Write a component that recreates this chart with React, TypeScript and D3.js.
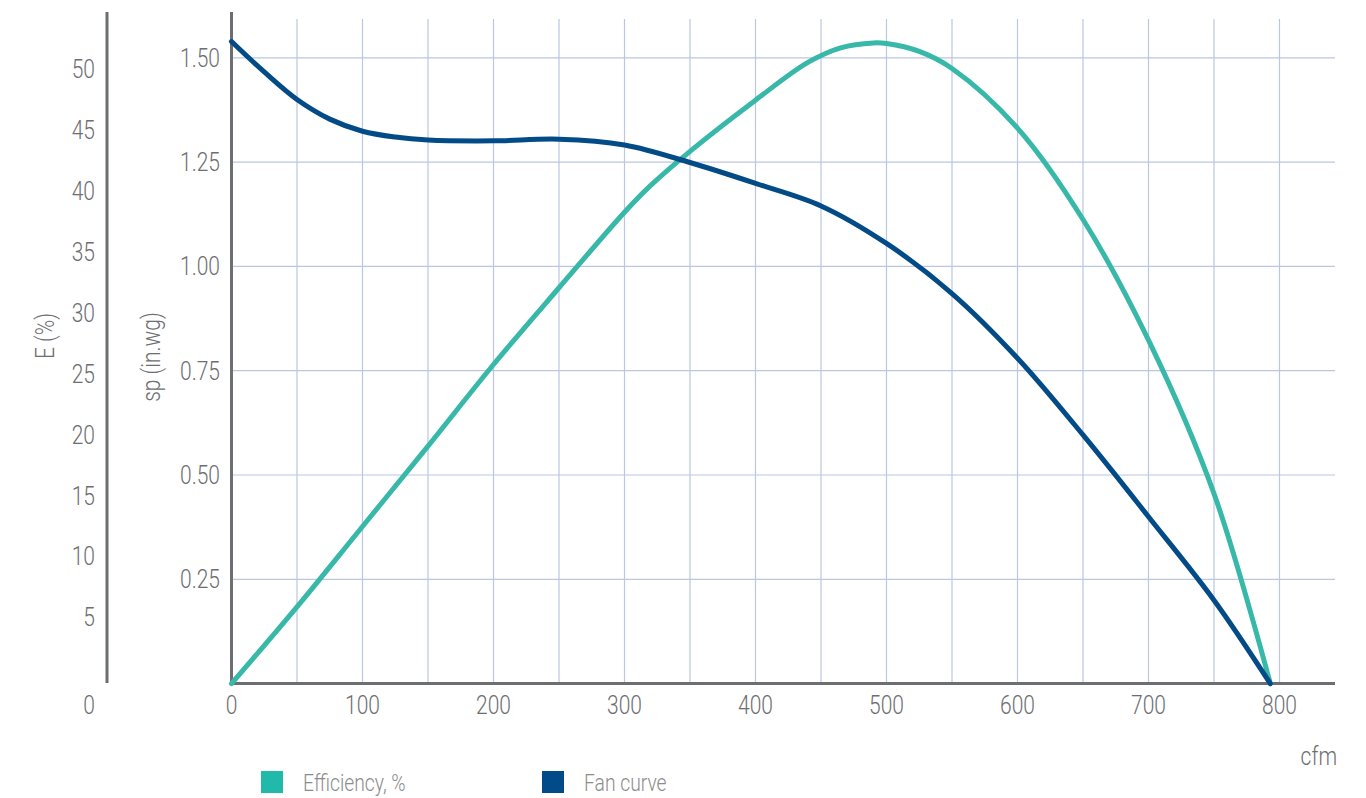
import React from "react";
import * as d3 from "d3";

const cfmTicks = [0, 100, 200, 300, 400, 500, 600, 700, 800];
const cfmGrid = [50, 100, 150, 200, 250, 300, 350, 400, 450, 500, 550, 600, 650, 700, 750, 800];
const spTicks = [0.25, 0.5, 0.75, 1.0, 1.25, 1.5];
const eTicks = [5, 10, 15, 20, 25, 30, 35, 40, 45, 50];

const effCfm = [0, 50, 100, 150, 200, 250, 300, 320, 350, 400, 440, 465, 490, 500, 525, 550, 600, 650, 700, 750, 793];
const effVal = [0, 6.3, 12.9, 19.5, 26.2, 32.5, 38.7, 40.9, 43.7, 47.9, 51.0, 52.2, 52.6, 52.55, 51.9, 50.5, 45.6, 38.1, 28.2, 15.6, 0];

const fanCfm = [0, 25, 50, 75, 100, 125, 150, 200, 250, 300, 350, 400, 450, 500, 550, 600, 650, 700, 750, 793];
const fanVal = [1.539, 1.466, 1.4, 1.353, 1.324, 1.31, 1.303, 1.301, 1.305, 1.291, 1.249, 1.199, 1.145, 1.055, 0.935, 0.78, 0.596, 0.4, 0.2, 0];

const FONT = "Roboto, sans-serif";
const AXIS = "#6d6e71";
const GRID = "#bcc5e2";
const TEAL = "#38b8a9";
const NAVY = "#034b87";
const SX = 0.84;

type TProps = {
  x: number;
  y: number;
  anchor?: "start" | "middle" | "end";
  size?: number;
  fill?: string;
  rotate?: number;
  dy?: string;
  children: React.ReactNode;
};

function T({ x, y, anchor = "start", size = 25, fill = AXIS, rotate = 0, dy, children }: TProps) {
  return (
    <text
      transform={`translate(${x},${y}) rotate(${rotate}) scale(${SX},1)`}
      textAnchor={anchor}
      fontSize={size}
      fontWeight={300}
      fill={fill}
      dy={dy}
    >
      {children}
    </text>
  );
}

export default function App() {
  const x = d3.scaleLinear().domain([0, 800]).range([231.5, 1279.5]);
  const ySp = d3.scaleLinear().domain([0, 1.5]).range([683.6, 57.8]);
  const yE = d3.scaleLinear().domain([0, 50]).range([683.6, 74.6]);

  const effLine = d3
    .line<number>()
    .x((_, i) => x(effCfm[i]))
    .y((d) => yE(d))
    .curve(d3.curveCatmullRom.alpha(0.5))(effVal) as string;
  const fanLine = d3
    .line<number>()
    .x((_, i) => x(fanCfm[i]))
    .y((d) => ySp(d))
    .curve(d3.curveCatmullRom.alpha(0.5))(fanVal) as string;

  const gridTop = 19;
  const xRight = 1335;
  const base = ySp(0);

  return (
    <svg
      width={1366}
      height={798}
      style={{ position: "absolute", left: 0, top: 0, background: "#fff" }}
      fontFamily={FONT}
    >
      {cfmGrid.map((v) => (
        <line key={"vg" + v} x1={x(v)} x2={x(v)} y1={gridTop} y2={base} stroke={GRID} strokeWidth={1.2} />
      ))}
      {spTicks.map((v) => (
        <line key={"hg" + v} x1={x(0)} x2={xRight} y1={ySp(v)} y2={ySp(v)} stroke={GRID} strokeWidth={1.2} />
      ))}

      <line x1={107} x2={107} y1={12} y2={683} stroke={AXIS} strokeWidth={3} />
      <line x1={x(0)} x2={x(0)} y1={12} y2={base + 1} stroke={AXIS} strokeWidth={3} />
      <line x1={x(0) - 1.5} x2={xRight} y1={base} y2={base} stroke={AXIS} strokeWidth={3} />

      {eTicks.map((v) => (
        <T key={"et" + v} x={95} y={yE(v) - 5.4} dy="0.36em" anchor="end">
          {v}
        </T>
      ))}
      <T x={89} y={714} anchor="middle">0</T>

      {spTicks.map((v) => (
        <T key={"st" + v} x={220} y={ySp(v)} dy="0.36em" anchor="end">
          {d3.format(".2f")(v)}
        </T>
      ))}

      {cfmTicks.map((v) => (
        <T key={"xt" + v} x={x(v)} y={714} anchor="middle">
          {v}
        </T>
      ))}

      <T x={1337} y={765} anchor="end">cfm</T>
      <T x={54} y={336} anchor="middle" rotate={-90}>E (%)</T>
      <T x={160} y={357} anchor="middle" rotate={-90}>sp (in.wg)</T>

      <path d={effLine} fill="none" stroke={TEAL} strokeWidth={5} strokeLinejoin="round" strokeLinecap="round" />
      <path d={fanLine} fill="none" stroke={NAVY} strokeWidth={5} strokeLinejoin="round" strokeLinecap="round" />

      <rect x={261} y={771} width={22} height={22} fill="#20b9aa" />
      <T x={303} y={791} size={23} fill="#8c8c8c">Efficiency, %</T>
      <rect x={542} y={771} width={22} height={22} fill="#014b89" />
      <T x={584} y={791} size={23} fill="#8c8c8c">Fan curve</T>
    </svg>
  );
}
